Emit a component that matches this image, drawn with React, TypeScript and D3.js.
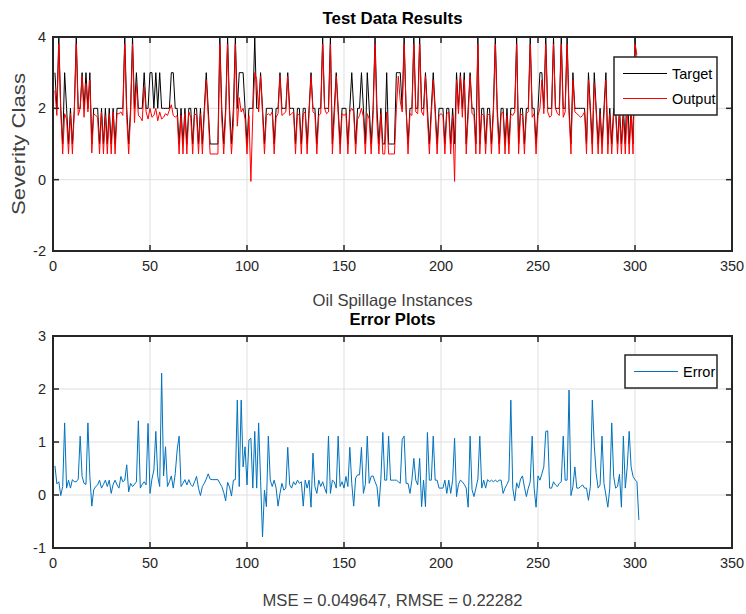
import React from "react";
import * as d3 from "d3";

// Severity class targets for each oil spillage test instance (1-based index)
const targetClass: number[] = [
  3,2,4,2,1,3,2,1,2,1,2,4,2,2,3,2,3,2,3,1,2,2,2,1,2,
  1,2,1,2,1,2,1,2,2,2,2,4,2,1,2,4,2,3,2,2,2,3,2,2,3,
  3,2,3,2,3,2,2,2,2,2,3,3,2,2,1,2,1,2,1,2,2,1,2,2,1,
  2,1,2,3,2,1,1,1,1,1,4,2,1,2,4,2,1,2,4,2,3,3,3,2,1,
  2,2,2,4,2,2,3,2,1,2,2,2,2,1,2,2,3,2,2,2,3,2,2,2,1,
  2,2,1,2,2,1,2,3,2,2,1,2,2,4,2,2,2,4,1,2,3,2,1,2,2,
  2,1,2,3,2,1,2,2,3,2,1,3,2,1,2,4,2,1,2,1,1,3,1,1,1,
  1,3,3,3,2,4,2,1,2,2,4,2,2,4,2,2,3,2,1,2,3,2,1,2,2,
  2,1,2,2,1,2,1,3,2,3,2,3,1,2,3,2,2,1,4,1,2,2,1,2,2,
  1,2,4,2,1,2,2,1,2,1,2,2,2,4,1,2,2,1,2,2,4,2,2,1,2,
  3,3,2,4,2,2,2,4,2,2,2,4,2,2,4,2,1,3,2,2,2,2,2,2,1,
  3,2,1,3,2,1,2,1,2,3,1,2,1,2,2,1,2,1,2,1,3,1,2,1,4,3,
];

// Network output for the same instances
const networkOutput: number[] = [
  2.5,1.8,3.8,1.9,0.72,1.85,1.7,0.72,1.85,0.72,1.9,3.8,1.8,2.0,2.9,1.75,2.7,1.9,2.8,0.75,1.85,1.8,1.75,0.72,1.9,
  0.72,1.8,0.72,1.85,0.72,1.9,0.72,1.85,1.85,1.9,1.8,3.8,1.75,0.72,1.8,3.8,1.6,2.7,1.8,1.75,1.65,2.6,1.9,1.7,2.0,
  1.75,1.8,2.0,1.65,1.9,1.7,1.75,1.85,1.8,1.95,2.1,1.8,1.75,1.8,0.72,1.8,0.72,1.85,0.72,1.9,1.75,0.72,1.85,1.8,0.72,
  1.85,0.72,1.85,2.8,1.8,0.72,0.72,0.72,0.72,0.72,3.8,1.7,0.72,1.8,3.8,1.75,0.72,1.6,3.8,1.5,2.3,1.9,2.0,1.7,0.72,
  1.8,-0.05,1.85,3.0,2.8,1.9,2.9,1.85,0.72,1.8,1.85,1.8,1.9,0.72,1.75,1.85,2.9,1.8,1.85,1.9,2.9,1.8,1.85,1.9,0.72,
  1.85,1.8,0.72,1.85,1.9,0.72,1.85,2.9,1.9,1.85,0.72,1.8,1.85,3.8,2.0,1.85,1.9,3.8,0.72,1.75,2.9,1.85,0.72,1.85,1.8,
  1.85,0.72,1.9,2.0,1.9,0.72,1.7,1.8,2.0,1.75,0.72,1.85,1.7,0.72,1.8,3.8,1.6,0.72,1.85,0.72,0.72,1.9,0.72,0.72,0.72,
  0.72,2.0,2.9,2.2,1.9,3.8,2.0,0.72,1.85,1.8,3.8,1.9,1.85,3.8,1.9,1.8,2.9,1.75,0.72,1.8,2.8,1.85,0.72,1.8,1.85,
  1.8,0.72,1.85,1.9,0.72,1.8,-0.05,2.8,1.85,2.9,1.75,2.8,0.72,1.8,2.9,1.85,1.8,0.72,3.8,0.72,1.85,1.8,0.72,1.8,1.85,
  0.72,1.85,3.8,1.8,0.72,1.85,1.9,0.72,1.8,0.72,1.85,1.8,1.9,3.8,0.72,1.85,1.8,0.72,1.85,1.9,3.8,1.75,1.85,0.72,1.8,
  2.0,2.8,1.85,3.8,1.9,1.75,1.8,3.8,2.0,1.85,1.8,3.8,1.75,1.9,3.8,1.85,0.72,2.8,1.9,1.85,1.8,1.75,1.8,1.9,0.72,
  2.8,1.85,0.72,2.7,1.9,0.72,1.85,0.72,1.8,2.8,0.72,1.85,0.72,1.8,1.9,0.72,1.85,0.72,1.8,0.72,2.0,0.72,1.85,0.72,3.8,3.5,
];

// Prediction error per instance
const errorValues: number[] = [
  0.55,0.21,0.25,-0.01,0.16,1.36,0.13,0.28,0.13,0.29,0.25,0.25,0.3,1.11,0.35,0.22,0.2,1.36,0.35,-0.21,
  0.1,0.16,0.19,0.28,0.13,0.2,0.28,0.16,0.28,0.03,0.2,0.28,0.19,0.13,0.35,0.25,0.28,0.57,0.06,0.22,
  0.16,0.2,0.25,1.4,0.13,0.2,0.25,0.19,1.35,0.03,0.3,0.47,1.2,0.35,0.16,2.3,0.36,0.91,0.16,0.25,
  0.36,0.13,0.4,0.85,1.11,0.16,0.22,0.29,0.19,0.29,0.2,0.16,0.25,0.35,0.13,-0.01,0.16,0.22,0.3,0.4,
  0.3,0.29,0.29,0.29,0.29,0.22,0.16,0.05,-0.11,0.24,0.15,-0.02,0.28,0.29,1.79,0.16,1.79,0.53,0.91,0.19,
  1.04,1.07,0.13,1.2,0.13,1.36,0.28,-0.79,0.09,-0.22,1.11,0.28,0.16,0.28,0.13,-0.21,0.03,0.22,0.09,0.13,
  0.9,0.19,0.13,0.25,0.19,0.28,0.22,0.25,-0.21,0.28,0.13,0.28,-0.23,0.79,0.16,0.03,0.28,0.16,0.25,0.13,
  0.03,1.11,0.03,0.28,0.25,0.13,1.11,0.16,0.25,0.13,0.35,0.16,0.9,0.22,-0.21,0.32,0.38,0.38,0.9,0.03,
  0.2,1.11,0.22,0.35,0.36,0.25,0.16,-0.22,0.3,1.18,0.28,0.28,1.11,0.28,0.28,0.28,0.28,0.25,0.22,1.05,
  1.11,0.22,0.22,0.03,0.28,0.69,0.28,0.19,0.69,-0.22,0.28,-0.22,1.18,0.28,0.28,1.11,0.28,0.28,0.13,0.13,
  0.13,0.28,0.03,0.28,0.03,0.28,1.07,-0.03,0.2,0.28,0.25,0.2,0.13,-0.23,1.11,0.1,-0.03,0.13,0.3,1.11,
  0.13,0.28,0.13,0.29,0.25,0.28,0.25,0.28,0.25,0.28,0.28,0.03,0.13,0.2,0.28,1.79,0.13,-0.11,0.23,0.13,
  0.3,0.36,0.15,-0.03,0.13,0.25,1.11,0.13,-0.23,0.36,0.28,0.4,0.53,1.2,1.21,0.13,0.13,0.25,0.19,0.16,
  0.22,0.25,1.11,0.28,0.28,1.98,-0.01,0.16,0.53,0.13,0.13,0.16,0.19,0.13,0.13,-0.1,0.16,1.79,0.94,0.4,
  0.13,0.19,1.11,0.22,0.0,-0.23,0.13,1.36,0.35,0.13,0.16,0.39,-0.23,1.11,0.13,0.53,1.2,0.53,0.35,0.29,
  0.25,-0.47,
];

const xTicks = [0, 50, 100, 150, 200, 250, 300, 350];
const topYTicks = [-2, 0, 2, 4];
const bottomYTicks = [-1, 0, 1, 2, 3];

const W = 746;
const H = 614;
const LEFT = 53;
const RIGHT = 732;
const FONT = "'Liberation Sans', Arial, Helvetica, sans-serif";
const AXIS = "#262626";
const GRID = "#dfdfdf";
const TICK_LEN = 6;

type Series = { values: number[]; color: string; label: string };

type PanelProps = {
  top: number;
  bottom: number;
  yDomain: [number, number];
  yTicks: number[];
  series: Series[];
  title: string;
  titleY: number;
  titleLen: number;
  xLabel: string;
  xLabelY: number;
  xLabelLen: number;
  yLabel?: string;
  legend: { x: number; y: number; w: number; rowH: number };
  id: string;
};

function Panel(p: PanelProps) {
  const x = d3.scaleLinear().domain([0, 350]).range([LEFT, RIGHT]);
  const y = d3.scaleLinear().domain(p.yDomain).range([p.bottom, p.top]);
  const line = d3
    .line<number>()
    .x((_, i) => x(i + 1))
    .y((d) => y(d));
  const cx = (LEFT + RIGHT) / 2;
  const lg = p.legend;
  const lgH = lg.rowH * p.series.length + 8;
  return (
    <g>
      <defs>
        <clipPath id={p.id}>
          <rect x={LEFT} y={p.top} width={RIGHT - LEFT} height={p.bottom - p.top} />
        </clipPath>
      </defs>
      <rect x={LEFT} y={p.top} width={RIGHT - LEFT} height={p.bottom - p.top} fill="#fff" />
      {/* grid */}
      {xTicks.map((t) => (
        <line key={"gx" + t} x1={x(t)} x2={x(t)} y1={p.top} y2={p.bottom} stroke={GRID} strokeWidth={1} />
      ))}
      {p.yTicks.map((t) => (
        <line key={"gy" + t} x1={LEFT} x2={RIGHT} y1={y(t)} y2={y(t)} stroke={GRID} strokeWidth={1} />
      ))}
      {/* data */}
      <g clipPath={`url(#${p.id})`}>
        {p.series.map((s) => (
          <path key={s.label} d={line(s.values) || ""} fill="none" stroke={s.color} strokeWidth={1} strokeLinejoin="miter" />
        ))}
      </g>
      {/* ticks */}
      {xTicks.map((t) => (
        <g key={"tx" + t}>
          <line x1={x(t)} x2={x(t)} y1={p.bottom} y2={p.bottom - TICK_LEN} stroke={AXIS} strokeWidth={1.5} />
          <line x1={x(t)} x2={x(t)} y1={p.top} y2={p.top + TICK_LEN} stroke={AXIS} strokeWidth={1.5} />
          <text x={x(t)} y={p.bottom + 20} textAnchor="middle" fontSize={14.5} fill={AXIS} fontFamily={FONT}>
            {t}
          </text>
        </g>
      ))}
      {p.yTicks.map((t) => (
        <g key={"ty" + t}>
          <line x1={LEFT} x2={LEFT + TICK_LEN} y1={y(t)} y2={y(t)} stroke={AXIS} strokeWidth={1.5} />
          <line x1={RIGHT} x2={RIGHT - TICK_LEN} y1={y(t)} y2={y(t)} stroke={AXIS} strokeWidth={1.5} />
          <text x={LEFT - 7} y={y(t) + 5} textAnchor="end" fontSize={14.5} fill={AXIS} fontFamily={FONT}>
            {t}
          </text>
        </g>
      ))}
      {/* box */}
      <rect x={LEFT} y={p.top} width={RIGHT - LEFT} height={p.bottom - p.top} fill="none" stroke={AXIS} strokeWidth={2} />
      {/* legend */}
      <rect x={lg.x} y={lg.y} width={lg.w} height={lgH} fill="#fff" stroke={AXIS} strokeWidth={1.5} />
      {p.series.map((s, i) => {
        const ry = lg.y + 4 + lg.rowH * (i + 0.5);
        return (
          <g key={"lg" + s.label}>
            <line x1={lg.x + 9} x2={lg.x + 53} y1={ry} y2={ry} stroke={s.color} strokeWidth={1} />
            <text x={lg.x + 58} y={ry + 5} fontSize={14.5} fill="#000" fontFamily={FONT}>
              {s.label}
            </text>
          </g>
        );
      })}
      {/* labels */}
      <text
        x={cx}
        y={p.titleY}
        textAnchor="middle"
        fontSize={16.5}
        fontWeight="bold"
        fill="#000"
        fontFamily={FONT}
        textLength={p.titleLen}
        lengthAdjust="spacingAndGlyphs"
      >
        {p.title}
      </text>
      <text
        x={cx}
        y={p.xLabelY}
        textAnchor="middle"
        fontSize={16.5}
        fill="#404040"
        fontFamily={FONT}
        textLength={p.xLabelLen}
        lengthAdjust="spacingAndGlyphs"
      >
        {p.xLabel}
      </text>
      {p.yLabel && (
        <text
          transform={`translate(25, ${(p.top + p.bottom) / 2}) rotate(-90)`}
          textAnchor="middle"
          fontSize={17.5}
          fill="#404040"
          fontFamily={FONT}
          textLength={142}
          lengthAdjust="spacingAndGlyphs"
        >
          {p.yLabel}
        </text>
      )}
    </g>
  );
}

export default function App() {
  return (
    <div style={{ position: "absolute", left: 0, top: 0 }}>
      <svg width={W} height={H} viewBox={`0 0 ${W} ${H}`} style={{ display: "block", background: "#fff" }}>
        <rect width={W} height={H} fill="#fff" />
        <Panel
          id="clipTop"
          top={37}
          bottom={251}
          yDomain={[-2, 4]}
          yTicks={topYTicks}
          series={[
            { values: targetClass, color: "#000000", label: "Target" },
            { values: networkOutput, color: "#ff0000", label: "Output" },
          ]}
          title="Test Data Results"
          titleY={24}
          titleLen={140}
          xLabel="Oil Spillage Instances"
          xLabelY={306}
          xLabelLen={160}
          yLabel="Severity Class"
          legend={{ x: 614, y: 57, w: 103, rowH: 25 }}
        />
        <Panel
          id="clipBottom"
          top={336}
          bottom={548}
          yDomain={[-1, 3]}
          yTicks={bottomYTicks}
          series={[{ values: errorValues, color: "#0072bd", label: "Error" }]}
          title="Error Plots"
          titleY={325}
          titleLen={86}
          xLabel="MSE = 0.049647, RMSE = 0.22282"
          xLabelY={606}
          xLabelLen={260}
          legend={{ x: 625, y: 355, w: 92, rowH: 25 }}
        />
      </svg>
    </div>
  );
}
